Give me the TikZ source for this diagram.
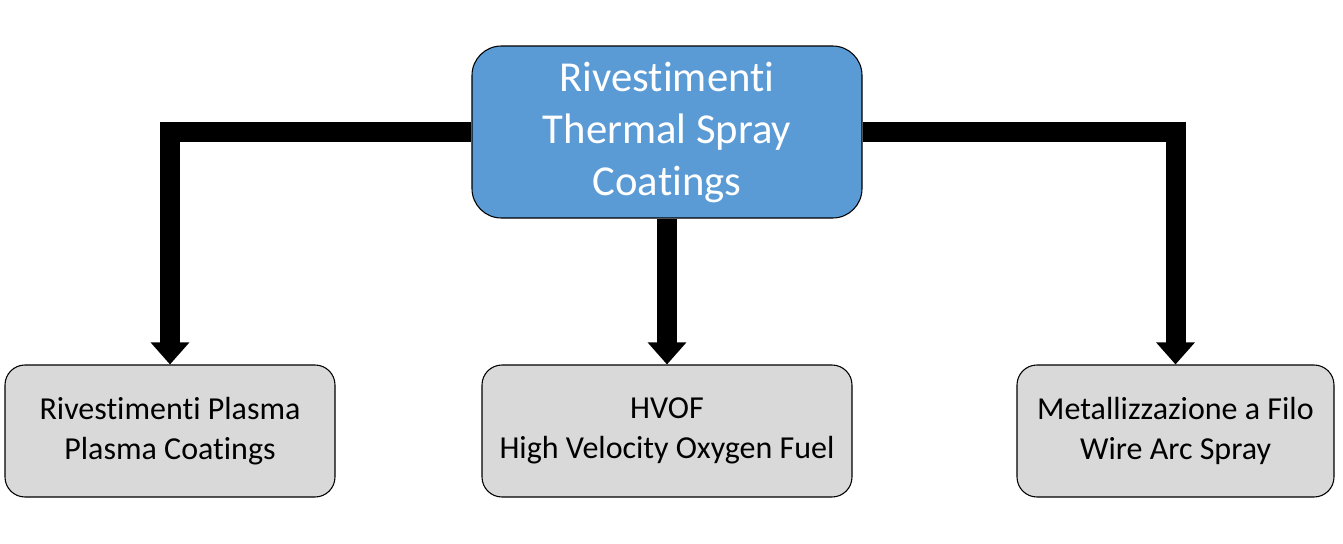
\documentclass[tikz,border=0pt]{standalone}
\usepackage{fontspec}
\setmainfont{Carlito}[Ligatures={NoCommon}]
\usetikzlibrary{arrows.meta}
\definecolor{topblue}{HTML}{5B9BD5}
\definecolor{boxgray}{HTML}{D9D9D9}
\tikzset{
  topbox/.style={draw=black, line width=0.8pt, fill=topblue, rounded corners=22pt,
    minimum width=292.5pt, minimum height=129pt, align=center, text=white,
    font=\fontsize{32}{39}\selectfont, inner sep=0pt},
  subbox/.style={draw=black, line width=0.8pt, fill=boxgray, rounded corners=15pt,
    minimum height=99pt, align=center, text=black,
    font=\fontsize{24}{30}\selectfont, inner sep=0pt},
  bigarrow/.style={draw=black, line width=15pt, line join=miter,
    -{Triangle[width=28pt,length=16.5pt]}}
}
\begin{document}
\begin{tikzpicture}[x=0.75pt,y=-0.75pt]
\useasboundingbox (0,0) rectangle (1343,543);
\node[topbox] (top) at (667,132) {Rivestimenti\\Thermal Spray\\Coatings};
\node[subbox, minimum width=247.5pt] (b1) at (170,431) {Rivestimenti Plasma\\Plasma Coatings};
\node[subbox, minimum width=277.5pt] (b2) at (667,431) {HVOF\\High Velocity Oxygen Fuel};
\node[subbox, minimum width=237.75pt] (b3) at (1175.5,431) {Metallizzazione a Filo\\Wire Arc Spray};
\draw[bigarrow] (top.west) -| (b1.north);
\draw[bigarrow] (top.south) -- (b2.north);
\draw[bigarrow] (top.east) -| (b3.north);
\end{tikzpicture}
\end{document}
